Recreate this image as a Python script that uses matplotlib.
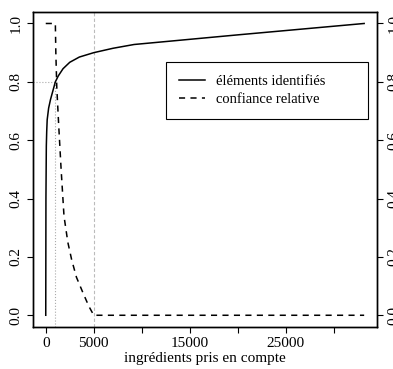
import matplotlib
matplotlib.use("Agg")
import matplotlib.pyplot as plt

plt.rcParams['font.family'] = ['Liberation Serif', 'DejaVu Serif']

# courbe "éléments identifiés"
ingr_ident = [0, 20, 60, 100, 150, 300, 500, 750, 1000, 1300, 1800, 2500,
              3500, 5000, 7000, 9200, 20000, 33150]
val_ident = [0.0, 0.40, 0.58, 0.63, 0.67, 0.71, 0.74, 0.77, 0.80, 0.82,
             0.845, 0.867, 0.885, 0.90, 0.915, 0.928, 0.961, 1.0]

# courbe "confiance relative"
ingr_conf = [0, 1000, 1050, 1150, 1350, 1600, 1900, 2300, 2700, 3200,
             3900, 4500, 5000, 33150]
val_conf = [1.0, 1.0, 0.90, 0.78, 0.65, 0.50, 0.34, 0.25, 0.19, 0.13,
            0.075, 0.03, 0.0, 0.0]

seuil_x = 1000
seuil_y = 0.8
coupure_x = 5000

xticks = [0, 5000, 10000, 15000, 20000, 25000, 30000]
xlabels = ['0', '5000', '', '15000', '', '25000', '']
yticks = [0.0, 0.2, 0.4, 0.6, 0.8, 1.0]
ylabels = ['0.0', '0.2', '0.4', '0.6', '0.8', '1.0']

fig = plt.figure(figsize=(3.93, 3.69), dpi=100)
ax = fig.add_axes([0.084, 0.114, 0.875, 0.854])

xmin, xmax = 0, 33150
pad_x = 0.04 * (xmax - xmin)
ax.set_xlim(xmin - pad_x, xmax + pad_x)
ax.set_ylim(-0.04, 1.04)

# lignes de repère
ax.plot([xmin - pad_x, seuil_x], [seuil_y, seuil_y], color='#aaaaaa', lw=0.8, ls=':')
ax.plot([seuil_x, seuil_x], [-0.04, seuil_y], color='#aaaaaa', lw=0.8, ls=':')
ax.axvline(coupure_x, color='#bbbbbb', lw=0.8, ls=(0, (3, 2)))

ax.plot(ingr_ident, val_ident, color='black', lw=1.1, label='éléments identifiés')
ax.plot(ingr_conf, val_conf, color='black', lw=1.1, ls=(0, (4, 3.5)),
        label='confiance relative')

ax.set_xticks(xticks)
ax.set_xticklabels(xlabels)
ax.set_yticks(yticks)
ax.set_yticklabels(ylabels, rotation=90, va='center')
ax.tick_params(labelsize=11, length=4, width=0.8, color='black')
ax.set_xlabel('ingrédients pris en compte', fontsize=11, labelpad=1)

ax2 = ax.twinx()
ax2.set_ylim(-0.04, 1.04)
ax2.set_yticks(yticks)
ax2.set_yticklabels(ylabels, rotation=90, va='center')
ax2.tick_params(labelsize=11, length=4, width=0.8)

for a in (ax, ax2):
    for s in a.spines.values():
        s.set_linewidth(1.0)

leg = ax.legend(loc='upper left', bbox_to_anchor=(0.387, 0.679, 0.587, 0.162),
                mode='expand', fontsize=10.5,
                frameon=True, fancybox=False, edgecolor='black', framealpha=1,
                handlelength=1.8, borderpad=0.9, labelspacing=0.3,
                handletextpad=0.75, borderaxespad=0)
leg.get_frame().set_linewidth(0.8)

fig.savefig('out.png', dpi=100)
